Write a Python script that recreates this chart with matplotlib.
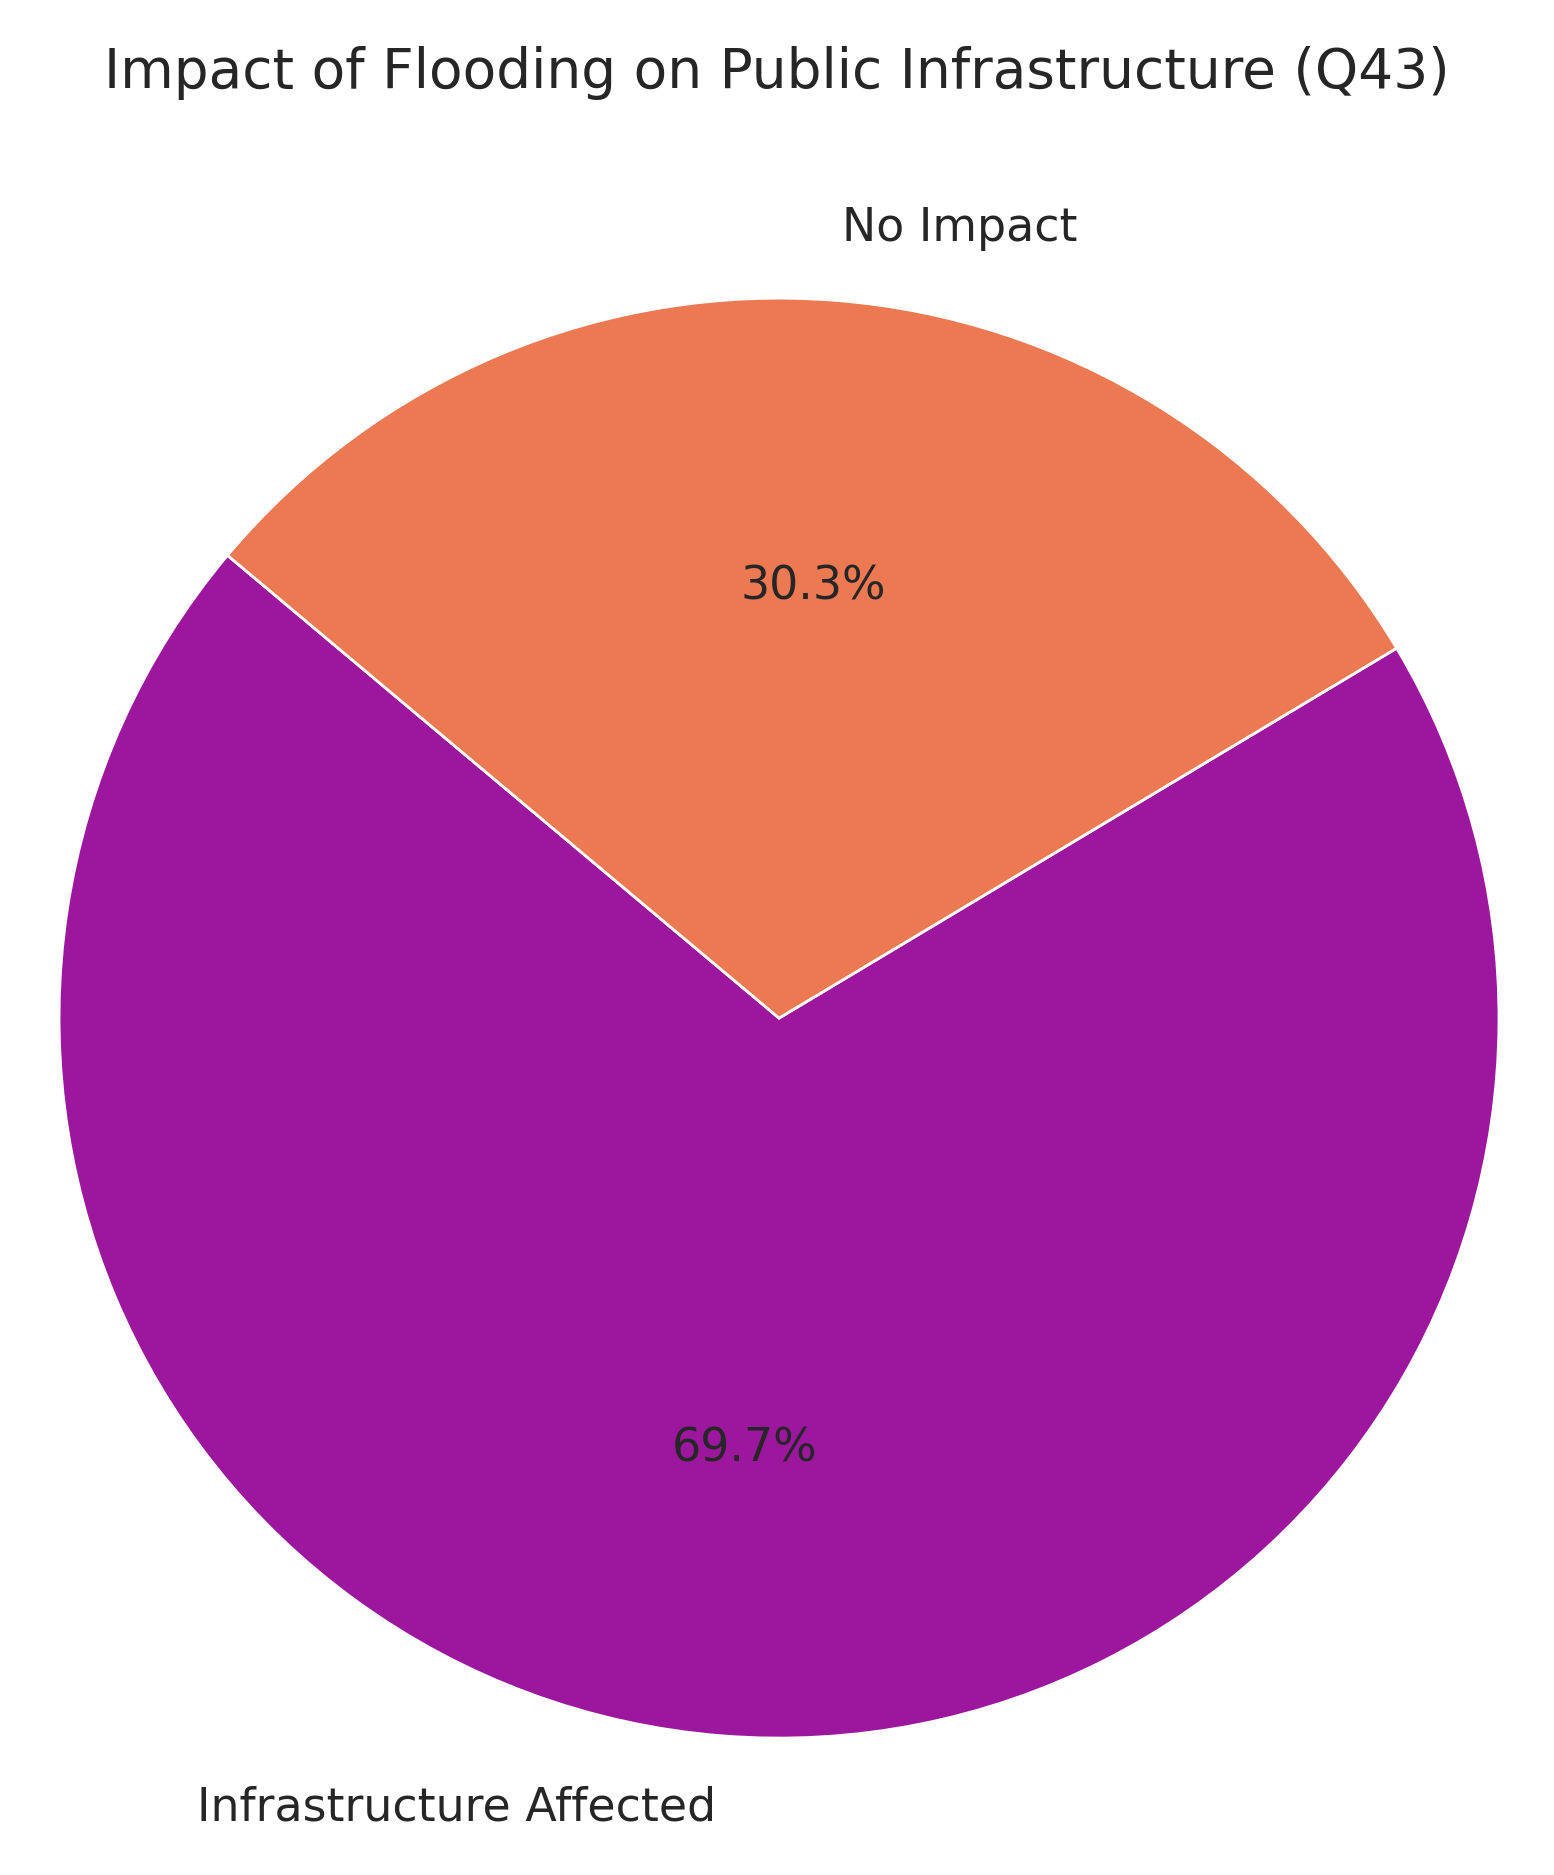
import matplotlib
matplotlib.use('Agg')
import matplotlib.pyplot as plt
import seaborn as sns

labels = ['Infrastructure Affected', 'No Impact']
values = [69.7, 30.3]
colors = sns.color_palette('plasma', 2)

sns.set_style('white')
plt.rcParams['font.family'] = ['DejaVu Sans']
plt.rcParams['text.color'] = '#262626'

fig = plt.figure(figsize=(7.77, 9.375), dpi=200)
ax = fig.add_axes([0.038, 0.073, 0.9266, 0.768])
ax.pie(values, labels=labels, colors=colors, autopct='%1.1f%%', startangle=140,
       wedgeprops={'edgecolor': 'white', 'linewidth': 1},
       textprops={'fontsize': 16.5, 'color': '#262626'})
ax.set_xlim(-1, 1)
ax.set_ylim(-1, 1)
ax.set_aspect('equal')
fig.text(0.5, 0.961, 'Impact of Flooding on Public Infrastructure (Q43)',
         ha='center', va='center', fontsize=19.8, color='#262626')
fig.savefig('out.png', dpi=200)
